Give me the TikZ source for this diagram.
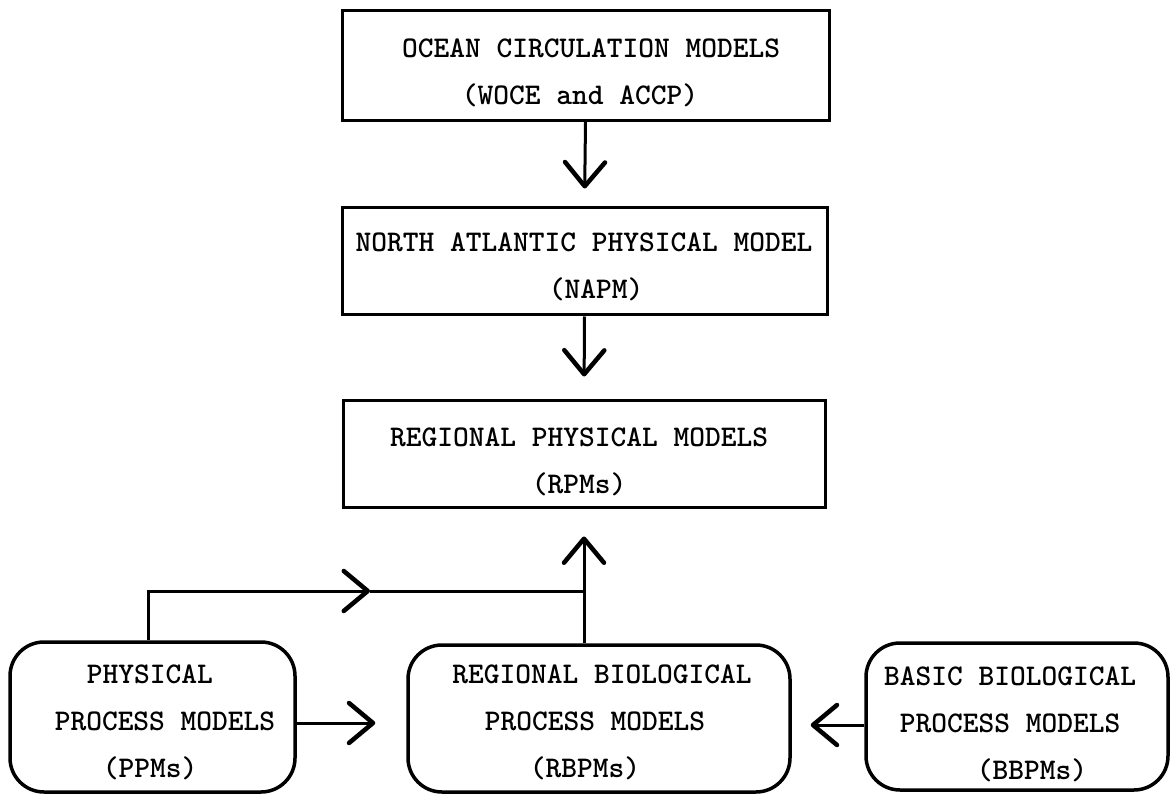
\documentclass[tikz,border=0pt]{standalone}
\usepackage{fontspec}
\usetikzlibrary{arrows.meta}
\tikzset{
  x=1pt, y=-1pt,
  sqbox/.style={draw, line width=3pt, inner sep=0pt},
  rbox/.style={draw, line width=3.5pt, inner sep=0pt, rounded corners=34pt},
  txt/.style={inner sep=0pt, align=center, font=\ttfamily\bfseries\fontsize{30}{47}\selectfont},
  conn/.style={line width=3pt, -{Straight Barb[length=24pt,width=40pt,line width=4.5pt,round]}},
  plain/.style={line width=3pt},
}
\begin{document}
\begin{tikzpicture}
\useasboundingbox (0,0) rectangle (1171,794);
% boxes
\node[sqbox, minimum width=487pt, minimum height=110pt] (ocm) at (585.5,65.5) {};
\node[sqbox, minimum width=485pt, minimum height=107pt] (napm) at (584.5,261.5) {};
\node[sqbox, minimum width=482pt, minimum height=106pt] (rpm) at (584,454) {};
\node[rbox, minimum width=285pt, minimum height=150pt] (ppm) at (152.5,717) {};
\node[rbox, minimum width=382pt, minimum height=147pt] (rbpm) at (599,718.5) {};
\node[rbox, minimum width=302pt, minimum height=147pt] (bbpm) at (1017,716.5) {};
% texts
\node[txt] (tocm) at (585,73) {\hspace*{12pt}OCEAN CIRCULATION MODELS\\(WOCE and ACCP)\hspace*{10pt}};
\node[txt] (tnapm) at (584,266.5) {NORTH ATLANTIC PHYSICAL MODEL\\\hspace*{24pt}(NAPM)};
\node[txt] (trpm) at (579,461.5) {REGIONAL PHYSICAL MODELS\\(RPMs)};
\node[txt] (tppm) at (150,722.5) {PHYSICAL\\\hspace*{30pt}PROCESS MODELS\\(PPMs)};
\node[txt] (trbpm) at (595,722.5) {\hspace*{14pt}REGIONAL BIOLOGICAL\\PROCESS MODELS\\(RBPMs)\hspace*{20pt}};
\node[txt] (tbbpm) at (1010,724) {BASIC BIOLOGICAL\\PROCESS MODELS\\\hspace*{44pt}(BBPMs)};
% connectors
\draw[conn, shorten >=18pt] (ocm.south) -- (napm.north);
\draw[conn, shorten >=23pt] (napm.south) -- (rpm.north);
\coordinate (up) at (rbpm.north -| rpm.south);
\draw[conn, shorten >=28pt] (up) -- (rpm.south);
\coordinate (jn) at (584,591);
\coordinate (mid) at (370,591);
\draw[conn] ([xshift=-4pt]ppm.north) |- (mid);
\draw[plain] (mid) -- (jn);
\draw[conn, shorten >=31pt] (ppm.east |- 0,723) -- (rbpm.west |- 0,723);
\draw[conn, shorten >=19pt] (bbpm.west |- 0,725) -- (rbpm.east |- 0,725);
\end{tikzpicture}
\end{document}
